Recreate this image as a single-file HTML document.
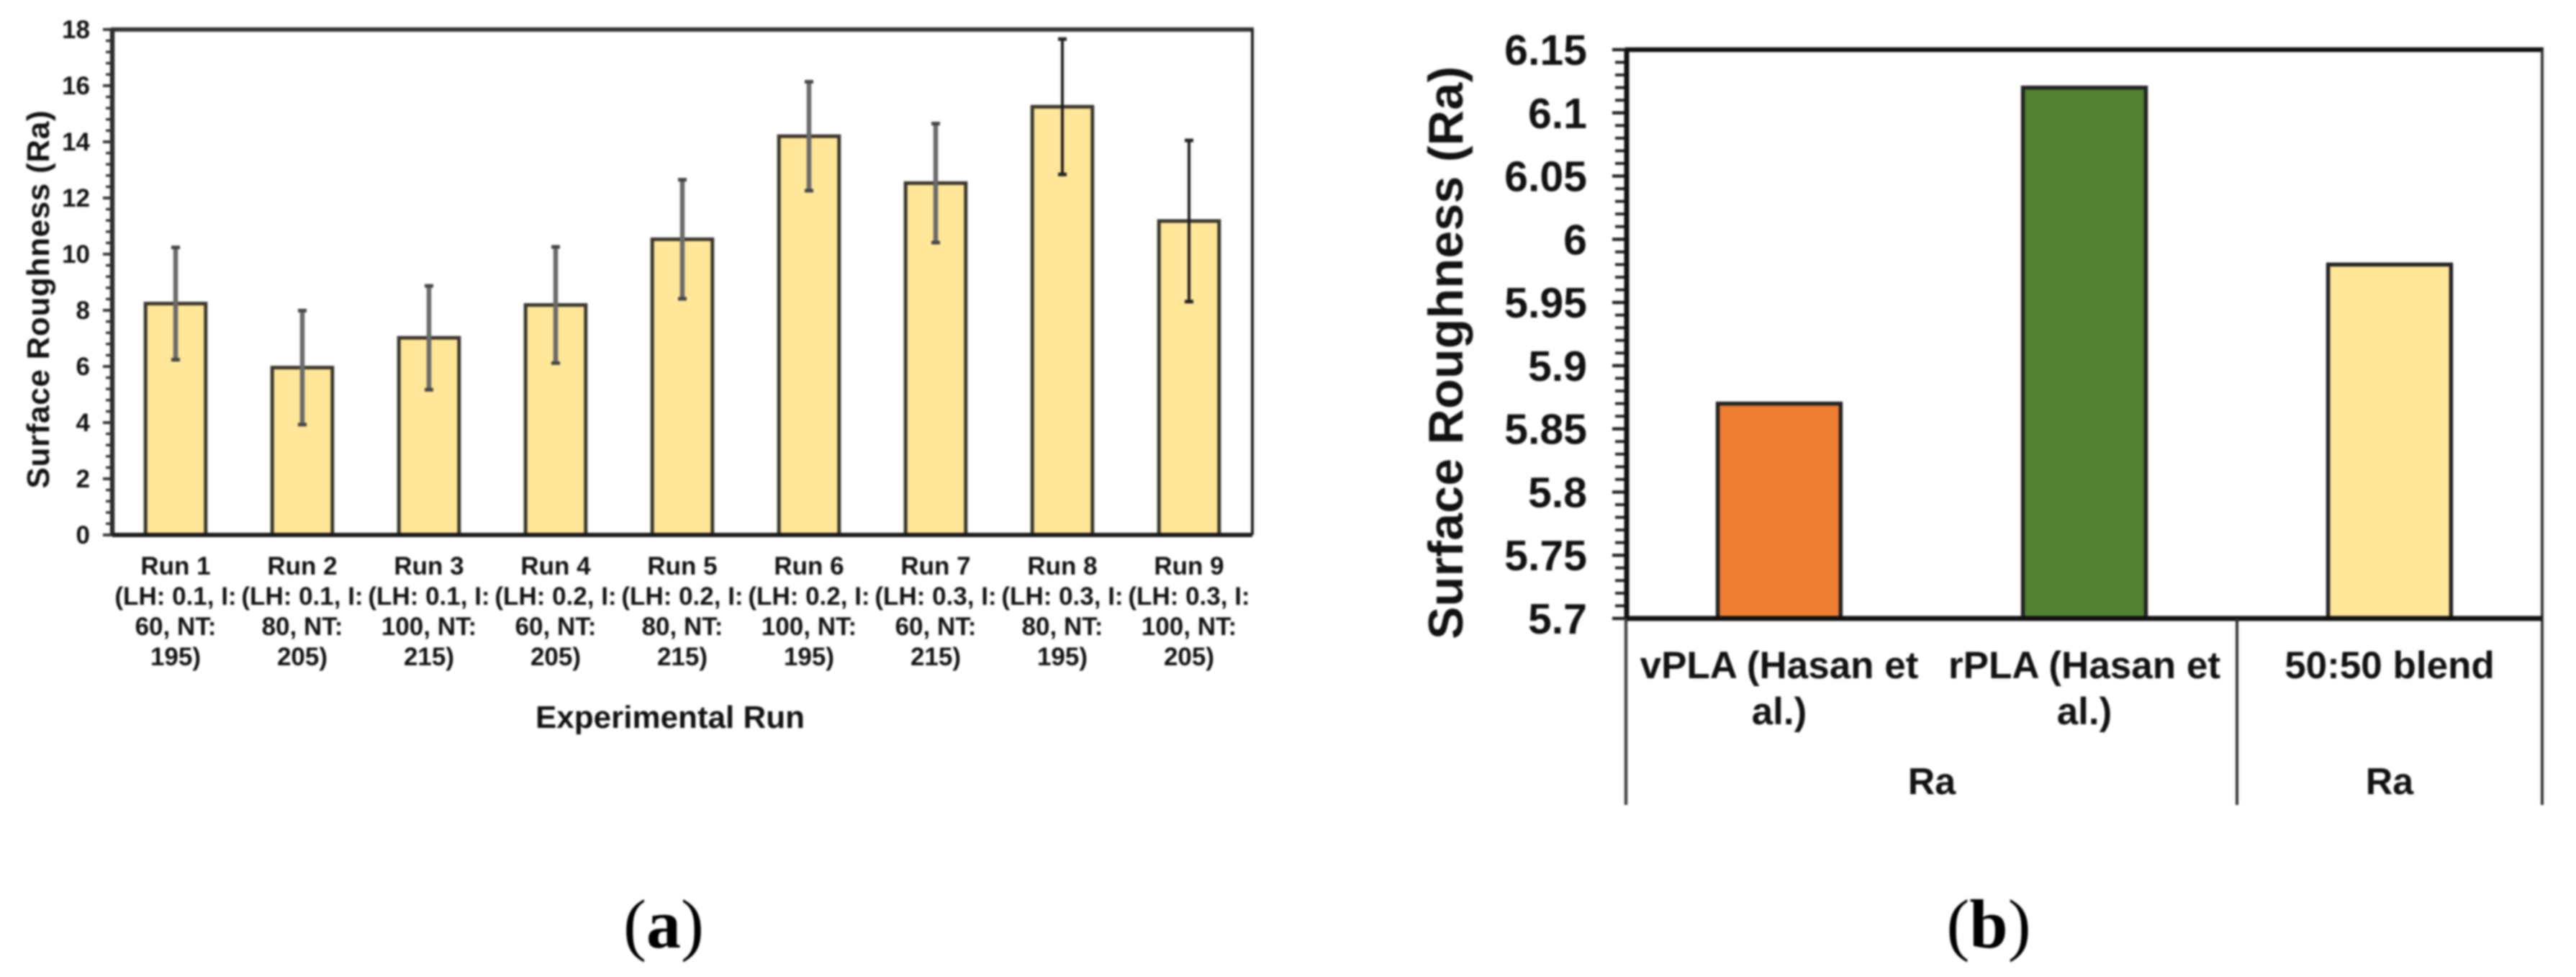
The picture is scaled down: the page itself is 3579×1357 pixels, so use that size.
<!DOCTYPE html>
<html lang="en">
<head>
<meta charset="utf-8">
<title>Surface Roughness Charts</title>
<style>
  html, body { margin: 0; padding: 0; background: #fff; }
  #figure { display: block; width: 3579px; height: 1357px; filter: blur(1.2px); background: #fff; }
  text { font-family: "Liberation Sans", sans-serif; font-weight: bold; fill: #111; }
  .serif { font-family: "Liberation Serif", serif; font-weight: normal; fill: #000; }
</style>
</head>
<body>
<svg id="figure" xmlns="http://www.w3.org/2000/svg" width="3579" height="1357" viewBox="0 0 3579 1357">
  <g id="chart-a"></g>
  <g id="chart-b"></g>
  <text class="serif" x="922" y="1316" font-size="96" text-anchor="middle">(<tspan font-weight="bold">a</tspan>)</text>
  <text class="serif" x="2763" y="1316" font-size="96" text-anchor="middle">(<tspan font-weight="bold">b</tspan>)</text>
</svg>
<script>
// ---- Chart A data ----
const runLabels = [
  ["Run 1", "(LH: 0.1, I:", "60, NT:", "195)"],
  ["Run 2", "(LH: 0.1, I:", "80, NT:", "205)"],
  ["Run 3", "(LH: 0.1, I:", "100, NT:", "215)"],
  ["Run 4", "(LH: 0.2, I:", "60, NT:", "205)"],
  ["Run 5", "(LH: 0.2, I:", "80, NT:", "215)"],
  ["Run 6", "(LH: 0.2, I:", "100, NT:", "195)"],
  ["Run 7", "(LH: 0.3, I:", "60, NT:", "215)"],
  ["Run 8", "(LH: 0.3, I:", "80, NT:", "195)"],
  ["Run 9", "(LH: 0.3, I:", "100, NT:", "205)"]
];
const runRoughness = [8.24, 5.96, 7.02, 8.19, 10.53, 14.2, 12.53, 15.25, 11.18];
const runErrors = [2.0, 2.03, 1.85, 2.07, 2.12, 1.94, 2.12, 2.41, 2.87];
const runTickLabels = ["0", "2", "4", "6", "8", "10", "12", "14", "16", "18"];

// ---- Chart B data ----
const materialLabels = [["vPLA (Hasan et", "al.)"], ["rPLA (Hasan et", "al.)"], ["50:50 blend"]];
const materialRoughness = [5.87, 6.12, 5.98];
const materialColors = ["#ed7d31", "#548235", "#ffe699"];
const materialTickLabels = ["5.7", "5.75", "5.8", "5.85", "5.9", "5.95", "6", "6.05", "6.1", "6.15"];
const groupLabels = ["Ra", "Ra"];
const groupSizes = [2, 1];

const NS = "http://www.w3.org/2000/svg";
function make(tag, attrs, parent, content) {
  const el = document.createElementNS(NS, tag);
  for (const k in attrs) el.setAttribute(k, attrs[k]);
  if (content !== undefined) el.textContent = content;
  parent.appendChild(el);
  
  return el;
}

// ---------- Chart A ----------
(function () {
  const g = document.getElementById("chart-a");
  const L = 156, R = 1740, T = 41, B = 743;
  const yMin = Number(runTickLabels[0]), yMax = Number(runTickLabels[runTickLabels.length - 1]);
  const y = v => B - (v - yMin) / (yMax - yMin) * (B - T);
  const band = (R - L) / runRoughness.length;
  const x = i => L + band * (i + 0.5);
  const barW = band * 0.475;

  let el = make("rect", { x: L, y: T, width: R - L, height: B - T, fill: "#fff", stroke: "none" }, g);
  

  for (let k = 0; k <= 45; k++) {
    const v = yMin + k * 0.4;
    el = make("line", { x1: L - 9, x2: L, y1: y(v), y2: y(v), stroke: "#333", "stroke-width": 3.5 }, g);
    
  }
  runTickLabels.forEach(t => {
    const v = Number(t);
    el = make("line", { x1: L - 13, x2: L, y1: y(v), y2: y(v), stroke: "#333", "stroke-width": 4 }, g);
    
    el = make("text", { x: 125, y: y(v) + 12, "font-size": 35, "text-anchor": "end" }, g, t);
    
  });

  runRoughness.forEach((v, i) => {
    el = make("rect", { x: x(i) - barW / 2, y: y(v), width: barW, height: B - y(v), fill: "#ffe699", stroke: "#3a362c", "stroke-width": 5 }, g);
    
  });
  runRoughness.forEach((v, i) => {
    const e = runErrors[i];
    const sharp = i >= 7;
    const errColor = sharp ? "#1c1c1c" : "#6a6a6a";
    const capColor = sharp ? "#222" : "#444";
    const errWidth = sharp ? 4 : 6.5;
    el = make("line", { x1: x(i), x2: x(i), y1: y(v + e), y2: y(v - e), stroke: errColor, "stroke-width": errWidth }, g);
    
    el = make("line", { x1: x(i) - 6, x2: x(i) + 6, y1: y(v + e), y2: y(v + e), stroke: capColor, "stroke-width": 5 }, g);
    
    el = make("line", { x1: x(i) - 6, x2: x(i) + 6, y1: y(v - e), y2: y(v - e), stroke: capColor, "stroke-width": 5 }, g);
    
  });

  el = make("line", { x1: L - 2, x2: R + 2, y1: T, y2: T, stroke: "#333", "stroke-width": 6 }, g);
  
  el = make("line", { x1: R, x2: R, y1: T, y2: B, stroke: "#222", "stroke-width": 4 }, g);
  
  el = make("line", { x1: L, x2: L, y1: T, y2: B + 2, stroke: "#2e2e2e", "stroke-width": 6.5 }, g);
  
  el = make("line", { x1: L, x2: R, y1: B, y2: B, stroke: "#1a1a1a", "stroke-width": 6 }, g);
  

  runLabels.forEach((lines, i) => {
    lines.forEach((s, j) => {
      el = make("text", { x: x(i), y: 798 + j * 42, "font-size": 35, "text-anchor": "middle" }, g, s);
      
    });
  });

  el = make("text", { x: 931, y: 1011, "font-size": 44, "text-anchor": "middle" }, g, "Experimental Run");
  
  el = make("text", { x: 0, y: 0, "font-size": 44, "text-anchor": "middle", textLength: 525, lengthAdjust: "spacing", transform: "translate(68 416) rotate(-90)" }, g, "Surface Roughness (Ra)");
  
})();

// ---------- Chart B ----------
(function () {
  const g = document.getElementById("chart-b");
  const L = 2260, R = 3532, T = 69, B = 859, AXIS_END = 1118;
  const yMin = Number(materialTickLabels[0]), yMax = Number(materialTickLabels[materialTickLabels.length - 1]);
  const y = v => B - (v - yMin) / (yMax - yMin) * (B - T);
  const band = (R - L) / materialRoughness.length;
  const x = i => L + band * (i + 0.5);
  const barW = band * 0.403;

  let el = make("rect", { x: L, y: T, width: R - L, height: B - T, fill: "#fff", stroke: "none" }, g);
  

  for (let k = 0; k <= 45; k++) {
    const v = yMin + k * 0.01;
    el = make("line", { x1: L - 16, x2: L, y1: y(v), y2: y(v), stroke: "#222", "stroke-width": 4 }, g);
    
  }
  materialTickLabels.forEach(t => {
    const v = Number(t);
    el = make("line", { x1: L - 20, x2: L, y1: y(v), y2: y(v), stroke: "#222", "stroke-width": 4.5 }, g);
    
    el = make("text", { x: 2205, y: y(v) + 21, "font-size": 59, "text-anchor": "end" }, g, t);
    
  });

  materialRoughness.forEach((v, i) => {
    el = make("rect", { x: x(i) - barW / 2, y: y(v), width: barW, height: B - y(v), fill: materialColors[i], stroke: "#222", "stroke-width": 5.5 }, g);
    
  });

  el = make("line", { x1: L - 2, x2: R + 2, y1: T, y2: T, stroke: "#111", "stroke-width": 6.5 }, g);
  
  el = make("line", { x1: R, x2: R, y1: T, y2: AXIS_END, stroke: "#333", "stroke-width": 4 }, g);
  
  el = make("line", { x1: L, x2: L, y1: T, y2: B, stroke: "#111", "stroke-width": 7 }, g);
  
  el = make("line", { x1: L - 1, x2: L - 1, y1: B, y2: AXIS_END, stroke: "#444", "stroke-width": 4.5 }, g);
  
  el = make("line", { x1: L, x2: R, y1: B, y2: B, stroke: "#111", "stroke-width": 7 }, g);
  

  let cursor = 0;
  groupSizes.forEach((n, gi) => {
    const cx = L + band * (cursor + n / 2);
    el = make("text", { x: cx, y: 1103, "font-size": 52, "text-anchor": "middle" }, g, groupLabels[gi]);
    
    cursor += n;
    if (cursor < materialRoughness.length) {
      const dx = L + band * cursor;
      el = make("line", { x1: dx, x2: dx, y1: B, y2: AXIS_END, stroke: "#333", "stroke-width": 4 }, g);
      
    }
  });

  materialLabels.forEach((lines, i) => {
    lines.forEach((s, j) => {
      el = make("text", { x: x(i), y: 942 + j * 64, "font-size": 53, "text-anchor": "middle" }, g, s);
      
    });
  });

  el = make("text", { x: 0, y: 0, "font-size": 68, "text-anchor": "middle", textLength: 796, lengthAdjust: "spacing", transform: "translate(2032 490) rotate(-90)" }, g, "Surface Roughness (Ra)");
  
})();
</script>
</body>
</html>
